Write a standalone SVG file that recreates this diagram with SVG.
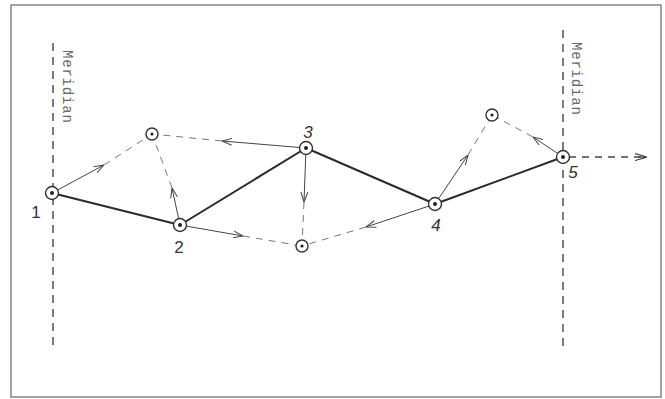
<svg xmlns="http://www.w3.org/2000/svg" width="665" height="399" viewBox="0 0 665 399">
<style>
.frame{fill:#fff;stroke:#8a8090;stroke-width:1.5}
.mer{stroke:#444;stroke-width:1.4;stroke-dasharray:8,6;fill:none}
.mtxt{font-family:"Liberation Mono",monospace;font-size:14px;letter-spacing:0.8px;fill:#666}
.heavy{stroke:#2a2a2a;stroke-width:2;fill:none}
.thin{stroke:#444;stroke-width:1;fill:none}
.dash{stroke:#777;stroke-width:1;stroke-dasharray:7,6;fill:none}
.node circle.o{fill:#fff;stroke:#333;stroke-width:1.4}
.node circle.d{fill:#222}
.lbl{font-family:"Liberation Sans",Arial,sans-serif;font-style:italic;font-size:17px;fill:#333;text-anchor:middle}
.up{font-style:normal}
</style>
<defs>
<marker id="arr" viewBox="0 0 10 8" refX="10" refY="4" markerWidth="10" markerHeight="8" markerUnits="userSpaceOnUse" orient="auto">
<path d="M0,0.5 L10,4 L0,7.5" fill="none" stroke="#444" stroke-width="1"/>
</marker>
<marker id="arr2" viewBox="0 0 12 8" refX="12" refY="4" markerWidth="12" markerHeight="8" markerUnits="userSpaceOnUse" orient="auto">
<path d="M0,0.5 L12,4 L0,7.5 M3,4 L12,4" fill="none" stroke="#444" stroke-width="1.2"/>
</marker>
</defs>
<rect class="frame" x="11" y="5" width="650" height="392"/>
<g id="meridians">
<line class="mer" x1="53" y1="43" x2="53" y2="345"/>
<line class="mer" x1="563" y1="30" x2="563" y2="346"/>
<text class="mtxt" transform="translate(63,50) rotate(90)">Meridian</text>
<text class="mtxt" transform="translate(572,42) rotate(90)">Meridian</text>
</g>
<g id="connectors">
<line class="heavy" x1="52" y1="193" x2="180" y2="225"/>
<line class="heavy" x1="180" y1="225" x2="306" y2="148"/>
<line class="heavy" x1="306" y1="148" x2="435" y2="204"/>
<line class="heavy" x1="435" y1="204" x2="563" y2="157"/>
<line class="thin" x1="52" y1="193" x2="104" y2="165" marker-end="url(#arr)"/>
<line class="dash" x1="104" y1="165" x2="152" y2="134"/>
<line class="thin" x1="180" y1="225" x2="172" y2="188" marker-end="url(#arr)"/>
<line class="dash" x1="172" y1="188" x2="152" y2="134"/>
<line class="thin" x1="306" y1="148" x2="222" y2="141" marker-end="url(#arr)"/>
<line class="dash" x1="222" y1="141" x2="152" y2="134"/>
<line class="thin" x1="180" y1="225" x2="243" y2="236" marker-end="url(#arr)"/>
<line class="dash" x1="243" y1="236" x2="302" y2="246"/>
<line class="thin" x1="306" y1="148" x2="304" y2="202" marker-end="url(#arr)"/>
<line class="dash" x1="304" y1="202" x2="302" y2="246"/>
<line class="thin" x1="435" y1="204" x2="366" y2="227" marker-end="url(#arr)"/>
<line class="dash" x1="366" y1="227" x2="302" y2="246"/>
<line class="thin" x1="435" y1="204" x2="468" y2="155" marker-end="url(#arr)"/>
<line class="dash" x1="468" y1="155" x2="492" y2="115"/>
<line class="thin" x1="563" y1="157" x2="533" y2="137" marker-end="url(#arr)"/>
<line class="dash" x1="533" y1="137" x2="492" y2="115"/>
<line class="dash" x1="569" y1="157" x2="647" y2="157" style="stroke:#444;stroke-width:1.3" marker-end="url(#arr2)"/>
</g>
<g id="n1" class="node"><circle class="o" cx="52" cy="193" r="6.5"/><circle class="d" cx="52" cy="193" r="2"/><text class="lbl up" x="36" y="218">1</text></g>
<g id="n2" class="node"><circle class="o" cx="180" cy="225" r="6.5"/><circle class="d" cx="180" cy="225" r="2"/><text class="lbl up" x="179" y="253">2</text></g>
<g id="n3" class="node"><circle class="o" cx="306" cy="148" r="6.5"/><circle class="d" cx="306" cy="148" r="2"/><text class="lbl" x="308" y="138">3</text></g>
<g id="n4" class="node"><circle class="o" cx="435" cy="204" r="6.5"/><circle class="d" cx="435" cy="204" r="2"/><text class="lbl" x="436" y="231">4</text></g>
<g id="n5" class="node"><circle class="o" cx="563" cy="157" r="6.5"/><circle class="d" cx="563" cy="157" r="2"/><text class="lbl" x="573" y="178">5</text></g>
<g id="na" class="node"><circle class="o" cx="152" cy="134" r="6"/><circle class="d" cx="152" cy="134" r="1.6"/></g>
<g id="nb" class="node"><circle class="o" cx="302" cy="246" r="6"/><circle class="d" cx="302" cy="246" r="1.6"/></g>
<g id="nc" class="node"><circle class="o" cx="492" cy="115" r="6"/><circle class="d" cx="492" cy="115" r="1.6"/></g>
</svg>
